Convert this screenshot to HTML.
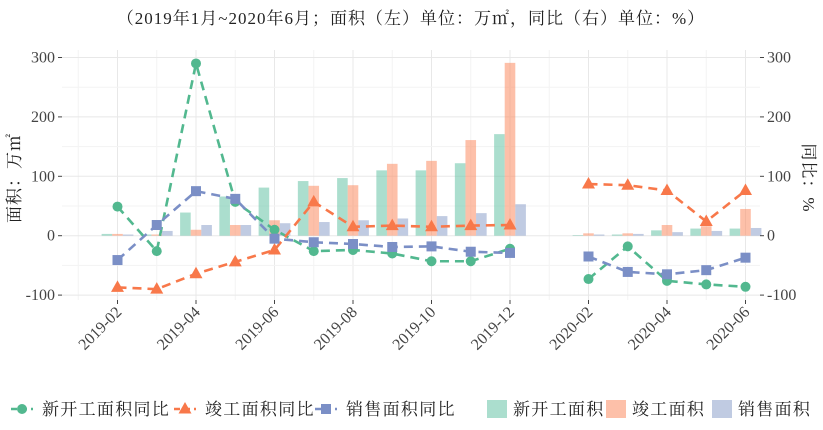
<!DOCTYPE html>
<html><head><meta charset="utf-8"><style>
body{margin:0;background:#fff;width:823px;height:425px;overflow:hidden;font-family:"Liberation Serif","Noto Serif CJK SC",serif;}
</style></head><body>
<svg id="chart" width="823" height="425" font-family="Liberation Serif, Noto Serif CJK SC, serif">
<text x="411" y="24" text-anchor="middle" font-size="17" letter-spacing="1" fill="#222">（2019年1月~2020年6月；面积（左）单位：万㎡，同比（右）单位：%）</text>
<g id="grid"></g><g id="bars"></g><g id="lines"></g><g id="axes"></g><g id="legend"></g>
</svg>
<script>
const months=["2019-02","2019-03","2019-04","2019-05","2019-06","2019-07","2019-08","2019-09","2019-10","2019-11","2019-12","2020-01","2020-02","2020-03","2020-04","2020-05","2020-06"];
const barNew=[3,2,39,66,81,92,97,110,110,122,171,null,1,2,9,12,12];
const barDone=[3,2,10,18,26,84,85,121,126,161,291,null,4,4,18,16,45];
const barSale=[2,8,18,18,21,23,26,29,33,38,53,null,2,3,6,8,13];
const yoyNew=[49,-26,290,57,10,-26,-24,-30,-43,-43,-22,null,-73,-18,-76,-82,-86];
const yoyDone=[-87,-90,-64,-44,-24,57,15,17,15,17,18,null,87,85,76,24,76];
const yoySale=[-41,18,75,62,-5,-11,-14,-19,-18,-27,-29,null,-35,-61,-65,-58,-37];
const yTicks=[-100,0,100,200,300];
const xLabels=["2019-02","2019-04","2019-06","2019-08","2019-10","2019-12","2020-02","2020-04","2020-06"];

const NS="http://www.w3.org/2000/svg";
const L=62,R=760,T=50,B=300;
const xs=i=>117.5+i*39.25;
const ys=v=>235.7-v*0.594;
const C={g:"#52b88f",o:"#f8784a",b:"#7b8fc6"};
const CB={g:"#66c2a5",o:"#fc8d62",b:"#8da0cb"};
function mk(tag,attrs,parent){const e=document.createElementNS(NS,tag);for(const k in attrs)e.setAttribute(k,attrs[k]);document.getElementById(parent).appendChild(e);return e;}
for(let i=-1;i<=months.length;i++){
  const x=xs(i);if(x<L||x>R)continue;
  const g=mk("line",{x1:x,x2:x,y1:T,y2:B,stroke:i%2?"#f3f3f3":"#e8e8e8","stroke-width":1},"grid");
  
}
for(let v=-100;v<=300;v+=50){
  const g=mk("line",{x1:L,x2:R,y1:ys(v),y2:ys(v),stroke:v%100?"#f3f3f3":"#e8e8e8","stroke-width":1},"grid");
  
}
const series=[[barNew,CB.g,-1,"bar-new-start"],[barDone,CB.o,0,"bar-completed"],[barSale,CB.b,1,"bar-sales"]];
series.forEach(([arr,col,off,nm])=>{arr.forEach((v,i)=>{if(v==null)return;
  const y0=ys(0),y1=ys(v);
  const r=mk("rect",{x:xs(i)+off*10.6-5.3,y:Math.min(y0,y1),width:10.6,height:Math.abs(y0-y1),fill:col,"fill-opacity":0.55},"bars");
  
});});
function seg(arr){const out=[];let cur=[];arr.forEach((v,i)=>{if(v==null){if(cur.length)out.push(cur);cur=[];}else cur.push([xs(i),ys(v)]);});if(cur.length)out.push(cur);return out;}
function marker(shape,x,y,col,nm,parent){let m;
  if(shape==="c")m=mk("circle",{cx:x,cy:y,r:5,fill:col},parent);
  else if(shape==="t")m=mk("polygon",{points:`${x},${y-7} ${x-6.5},${y+4.5} ${x+6.5},${y+4.5}`,fill:col},parent);
  else m=mk("rect",{x:x-5,y:y-5,width:10,height:10,fill:col},parent);
  }
[[yoyNew,C.g,"c","line-new-start-yoy"],[yoyDone,C.o,"t","line-completed-yoy"],[yoySale,C.b,"s","line-sales-yoy"]].forEach(([arr,col,sh,nm])=>{
  seg(arr).forEach(s=>{const p=mk("polyline",{points:s.map(q=>q.join(",")).join(" "),fill:"none",stroke:col,"stroke-width":2.6,"stroke-dasharray":"9,6"},"lines");
    });
  arr.forEach((v,i)=>{if(v!=null)marker(sh,xs(i),ys(v),col,nm+"-point","lines");});
});
yTicks.forEach(v=>{
  const t=mk("text",{x:L-7,y:ys(v)+5,"text-anchor":"end","font-size":16,fill:"#444"},"axes");t.textContent=v;
  
  mk("line",{x1:L-4,x2:L,y1:ys(v),y2:ys(v),stroke:"#444"},"axes");
  const t2=mk("text",{x:R+7,y:ys(v)+5,"font-size":16,fill:"#444"},"axes");t2.textContent=v;
  
  mk("line",{x1:R,x2:R+4,y1:ys(v),y2:ys(v),stroke:"#444"},"axes");
});
xLabels.forEach(lb=>{const i=months.indexOf(lb);const x=xs(i);
  mk("line",{x1:x,x2:x,y1:B,y2:B+4,stroke:"#444"},"axes");
  const t=mk("text",{x:x+5,y:B+13,"text-anchor":"end","font-size":16,fill:"#444",transform:`rotate(-45 ${x+5} ${B+13})`},"axes");t.textContent=lb;
  
});
let t=mk("text",{x:0,y:0,"text-anchor":"middle","font-size":17,"letter-spacing":1,fill:"#222",transform:"translate(20,178) rotate(-90)"},"axes");t.textContent="面积：万㎡";

t=mk("text",{x:0,y:0,"text-anchor":"middle","font-size":17,"letter-spacing":1,fill:"#222",transform:"translate(803,178) rotate(90)"},"axes");t.textContent="同比：%";

const ly=409;
[["c",C.g,"新开工面积同比",11],["t",C.o,"竣工面积同比",174],["s",C.b,"销售面积同比",315]].forEach(([sh,col,lb,x])=>{
  const l=mk("line",{x1:x,x2:x+22,y1:ly,y2:ly,stroke:col,"stroke-width":2.6,"stroke-dasharray":"6,4"},"legend");
  
  marker(sh,x+11,ly,col,"legend-marker","legend");
  const tx=mk("text",{x:x+31,y:ly+6,"font-size":17,"letter-spacing":1.3,fill:"#222"},"legend");tx.textContent=lb;
  
});
[[CB.g,"新开工面积",487],[CB.o,"竣工面积",606],[CB.b,"销售面积",712]].forEach(([col,lb,x])=>{
  const r=mk("rect",{x:x,y:ly-9,width:20,height:18,fill:col,"fill-opacity":0.55},"legend");
  
  const tx=mk("text",{x:x+26,y:ly+6,"font-size":17,"letter-spacing":1.3,fill:"#222"},"legend");tx.textContent=lb;
  
});
</script>
</body></html>
